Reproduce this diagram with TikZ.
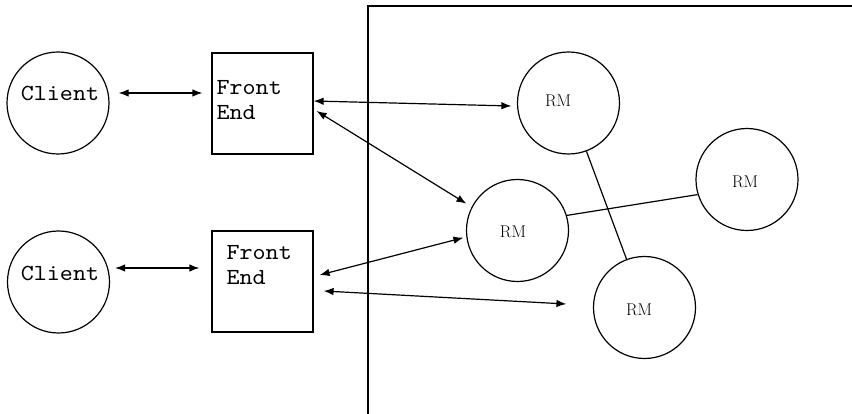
\documentclass[tikz,border=0pt]{standalone}
\usepackage{fontspec}
\newfontfamily\monofam{lmmono10-regular.otf}[FakeStretch=1.08]
\usetikzlibrary{arrows.meta}
\begin{document}
\begin{tikzpicture}[x=1pt,y=-1pt,
  every path/.style={line width=1.2pt},
  circ/.style={draw,circle,minimum size=102pt,inner sep=0pt},
  box/.style={draw,rectangle,minimum width=101pt,minimum height=101pt,inner sep=0pt},
  ctext/.style={font=\monofam\fontsize{23}{25}\selectfont,inner sep=0pt},
  ftext/.style={font=\monofam\fontsize{23}{25}\selectfont,inner sep=0pt,align=left,anchor=west},
  rtext/.style={font=\rmfamily\fontsize{17}{22}\selectfont,inner sep=0pt},
  arr/.style={{Latex[length=10pt,width=7.5pt]}-{Latex[length=10pt,width=7.5pt]}}
]
\useasboundingbox (0,0) rectangle (852,414);
% frame
\coordinate (fb) at (368,414);
\coordinate (ft) at (368,6);
\coordinate (fr) at (852,6);
\draw (fb) -- (ft) -- (fr);
% clients
\node[circ] (c1) at (58,103) {};
\node[ctext] (c1t) at (60,93) {Client};
\node[circ] (c2) at (58.5,282) {};
\node[ctext] (c2t) at (60,273) {Client};
% front ends
\node[box] (fe1) at (262.5,103.5) {};
\node[ftext] (fe1t) at (216,100.5) {Front\\End};
\node[box] (fe2) at (262.5,281.5) {};
\node[ftext] (fe2t) at (226,265.5) {Front\\End};
% RMs
\node[circ] (rm1) at (568.5,103) {};
\node[rtext] (rm1t) at (558,101) {RM};
\node[circ] (rm2) at (517.5,230.5) {};
\node[rtext] (rm2t) at (513,232) {RM};
\node[circ] (rm3) at (747,179.5) {};
\node[rtext] (rm3t) at (745,182) {RM};
\node[circ] (rm4) at (644.5,307.5) {};
\node[rtext] (rm4t) at (639,310) {RM};
% plain lines
\draw (rm1) -- (rm4);
\draw (rm2.17) -- (rm3.197);
% arrows
\draw[arr] ([xshift=9pt,yshift=10pt]c1.east) -- ([xshift=-9pt,yshift=10.5pt]fe1.west);
\draw[arr] ([xshift=5pt,yshift=14pt]c2.east) -- ([xshift=-12pt,yshift=13.5pt]fe2.west);
\draw[arr] ([yshift=2.5pt]fe1.east) -- ([xshift=-5.5pt,yshift=-3pt]rm1.west);
\draw[arr] ([xshift=3pt,yshift=-7.5pt]fe1.east) -- ([xshift=-5.5pt,yshift=2.6pt]rm2.152);
\draw[arr] ([xshift=6pt,yshift=6.5pt]fe2.east) -- ([xshift=-3pt]rm2.188);
\draw[arr] ([xshift=10pt,yshift=-9.5pt]fe2.east) -- ([xshift=-26.5pt,yshift=3.5pt]rm4.west);
\end{tikzpicture}
\end{document}
